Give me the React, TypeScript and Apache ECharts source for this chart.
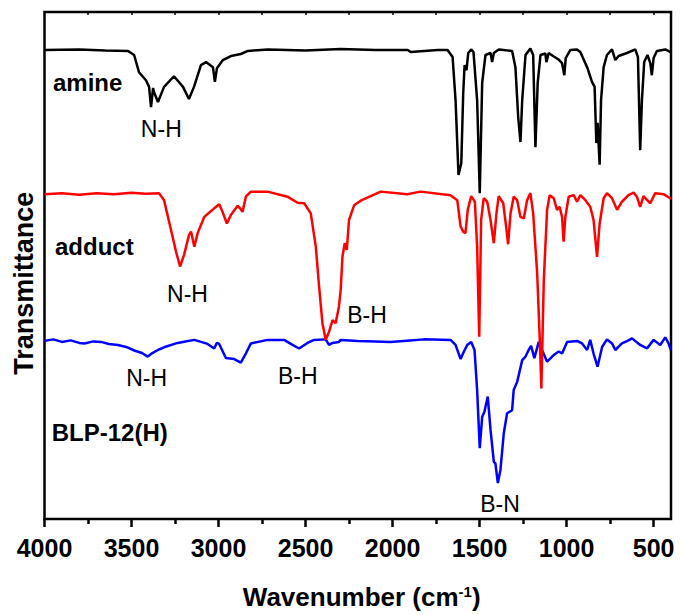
import React, { useEffect, useRef } from "react";
import * as echarts from "echarts";

// Wavenumber (cm-1), transmittance (a.u., offset spectra)
const AMINE: [number, number][] = [
  [4000, 92.5], [3800, 92.6], [3650, 92.4], [3520, 92.3], [3485, 91.5], [3457, 88.1], [3417, 86.5],
  [3399, 85.2], [3388, 81.2], [3376, 85.0], [3371, 84.2], [3348, 82.2], [3313, 85.2], [3256, 87.3],
  [3204, 85.2], [3170, 82.8], [3141, 85.2], [3101, 89.5], [3072, 90.1], [3032, 89.1], [3021, 86.2],
  [3009, 88.9], [2975, 90.5], [2929, 91.3], [2872, 91.7], [2831, 92.3], [2717, 92.6], [2500, 92.4],
  [2298, 92.7], [2100, 92.5], [1913, 92.5], [1896, 92.1], [1741, 92.5], [1684, 92.5], [1655, 91.1],
  [1638, 82.6], [1621, 67.8], [1605, 70.1], [1594, 84.0], [1586, 89.5], [1575, 88.5], [1565, 91.9],
  [1548, 92.6], [1535, 92.1], [1514, 82.6], [1499, 64.2], [1485, 86.0], [1466, 91.5], [1437, 91.9],
  [1428, 90.1], [1418, 91.9], [1390, 92.6], [1313, 92.3], [1294, 89.1], [1278, 79.2], [1265, 74.3],
  [1255, 82.6], [1236, 91.5], [1208, 92.8], [1192, 91.5], [1179, 73.3], [1166, 86.0], [1150, 91.5],
  [1122, 91.8], [1116, 90.1], [1103, 91.9], [1074, 91.2], [1045, 90.6], [1026, 89.9], [1013, 87.5],
  [1005, 90.9], [978, 92.5], [940, 92.6], [921, 92.1], [882, 89.1], [854, 86.2], [839, 85.2],
  [829, 74.1], [822, 78.1], [810, 69.8], [802, 82.6], [787, 89.1], [768, 91.5], [739, 92.6],
  [720, 90.5], [701, 91.3], [653, 91.9], [605, 92.6], [590, 91.1], [577, 72.7], [567, 82.6],
  [554, 90.1], [535, 91.5], [519, 89.9], [510, 87.5], [500, 90.9], [481, 92.3], [433, 92.6],
  [405, 92.1], [400, 92.0],
];

const ADDUCT: [number, number][] = [
  [4000, 64.0], [3900, 64.2], [3800, 63.9], [3700, 64.2], [3600, 64.0], [3500, 64.3], [3420, 64.1],
  [3342, 64.2], [3313, 62.8], [3273, 56.9], [3244, 52.6], [3221, 49.7], [3198, 52.0], [3170, 55.9],
  [3158, 56.6], [3139, 53.6], [3120, 56.3], [3082, 59.5], [3025, 61.2], [2996, 62.0], [2977, 60.5],
  [2952, 58.2], [2929, 59.9], [2890, 61.7], [2876, 61.2], [2862, 60.5], [2843, 63.5], [2814, 64.5],
  [2718, 64.5], [2604, 63.5], [2546, 62.3], [2508, 62.2], [2470, 60.2], [2441, 53.6], [2422, 45.7],
  [2403, 38.5], [2384, 35.2], [2365, 36.8], [2345, 39.1], [2327, 38.5], [2308, 41.8], [2298, 45.1],
  [2288, 51.6], [2275, 54.3], [2263, 53.0], [2250, 58.9], [2221, 61.8], [2183, 62.7], [2068, 64.5],
  [1915, 64.0], [1839, 64.5], [1667, 63.8], [1628, 62.8], [1609, 57.6], [1594, 56.6], [1581, 56.3],
  [1568, 60.9], [1548, 63.6], [1527, 62.5], [1514, 53.6], [1502, 35.8], [1491, 58.9], [1476, 63.2],
  [1456, 62.5], [1437, 58.9], [1418, 54.3], [1403, 60.2], [1390, 63.6], [1364, 62.2], [1345, 56.9],
  [1336, 54.1], [1322, 60.2], [1304, 63.5], [1284, 62.8], [1265, 59.5], [1246, 59.2], [1227, 62.8],
  [1208, 64.2], [1192, 60.2], [1169, 48.4], [1154, 35.2], [1145, 25.6], [1131, 47.0], [1112, 60.9],
  [1097, 63.8], [1074, 63.2], [1055, 60.9], [1040, 61.5], [1026, 59.5], [1017, 54.6], [1007, 59.5],
  [988, 63.5], [959, 63.8], [940, 62.5], [921, 63.8], [892, 62.8], [864, 61.5], [845, 58.9],
  [825, 51.6], [810, 58.2], [787, 63.2], [768, 64.2], [739, 63.2], [710, 60.9], [682, 62.5],
  [644, 63.8], [615, 64.3], [596, 63.5], [577, 61.5], [558, 63.6], [519, 62.2], [491, 64.2],
  [443, 64.0], [405, 63.2], [400, 63.1],
];

const BLP: [number, number][] = [
  [4000, 35.0], [3950, 35.3], [3900, 34.8], [3850, 35.1], [3800, 34.6], [3770, 34.5], [3720, 34.9],
  [3675, 34.8], [3630, 34.4], [3579, 34.2], [3530, 33.8], [3484, 33.1], [3440, 32.6], [3407, 31.9],
  [3380, 32.6], [3349, 33.2], [3300, 33.9], [3235, 34.6], [3190, 34.9], [3139, 35.2], [3063, 34.4],
  [3025, 33.5], [3010, 34.6], [2996, 34.4], [2958, 31.6], [2910, 31.4], [2872, 30.7], [2843, 32.5],
  [2814, 34.5], [2718, 35.2], [2623, 35.2], [2575, 34.2], [2537, 33.5], [2489, 34.6], [2451, 35.2],
  [2384, 35.3], [2365, 34.2], [2345, 34.6], [2308, 34.8], [2298, 35.2], [2200, 35.0], [2100, 34.9],
  [2011, 34.8], [1900, 35.1], [1820, 35.3], [1667, 35.2], [1638, 34.2], [1609, 31.4], [1590, 32.9],
  [1571, 34.2], [1548, 34.8], [1529, 33.2], [1514, 25.3], [1499, 13.8], [1485, 20.0], [1472, 21.0],
  [1453, 24.0], [1437, 17.4], [1418, 11.1], [1409, 10.8], [1395, 6.9], [1380, 9.5], [1361, 16.7],
  [1342, 20.7], [1313, 21.3], [1304, 25.3], [1284, 26.9], [1255, 31.2], [1236, 31.9], [1218, 33.2],
  [1204, 34.0], [1185, 31.6], [1160, 34.8], [1141, 33.2], [1112, 30.9], [1074, 32.2], [1045, 32.9],
  [1026, 32.5], [997, 34.8], [940, 35.0], [911, 34.5], [882, 33.2], [864, 35.2], [845, 32.5],
  [822, 29.9], [796, 33.8], [768, 35.3], [739, 34.5], [720, 33.2], [682, 34.5], [650, 35.0],
  [624, 35.5], [577, 34.2], [538, 33.5], [500, 35.2], [462, 34.2], [433, 35.7], [414, 34.5],
  [401, 33.2],
];

const MAJOR_TICKS = [4000, 3500, 3000, 2500, 2000, 1500, 1000, 500];
const MINOR_TICKS = [3750, 3250, 2750, 2250, 1750, 1250, 750];
const TOP_TICKS = [3750, 3500, 3250, 3000, 2750, 2500, 2250, 2000, 1750, 1500, 1250, 1000, 750, 500];

const FONT = 'Arial, "Liberation Sans", Helvetica, sans-serif';

export default function App() {
  const ref = useRef<HTMLDivElement>(null);
  useEffect(() => {
    if (!ref.current) return;
    const chart = echarts.init(ref.current, undefined, { renderer: "svg" });
    const baseX = {
      type: "value" as const,
      inverse: true,
      min: 400,
      max: 4000,
      splitLine: { show: false },
      axisLine: { show: false },
    };
    const label = (text: string, x: number, y: number, bold: boolean, size: number, align = "center") => ({
      type: "text",
      x,
      y,
      style: {
        text,
        fill: "#000",
        font: `${bold ? "bold " : ""}${size}px ${FONT}`,
        align,
        verticalAlign: "middle",
      },
    });
    chart.setOption({
      animation: false,
      grid: {
        left: 44.5,
        right: 9,
        top: 12,
        bottom: 96,
        show: true,
        borderColor: "#000",
        borderWidth: 2.5,
        backgroundColor: "transparent",
      },
      xAxis: [
        {
          ...baseX,
          position: "bottom",
          axisTick: { show: true, customValues: MAJOR_TICKS, length: 9, lineStyle: { color: "#000", width: 2.5 } },
          axisLabel: {
            show: true,
            customValues: MAJOR_TICKS,
            formatter: (v: number) => String(v),
            color: "#000",
            fontSize: 25,
            fontWeight: "bold",
            fontFamily: FONT,
            margin: 16,
          },
        },
        {
          ...baseX,
          position: "bottom",
          axisTick: { show: true, customValues: MINOR_TICKS, length: 5, lineStyle: { color: "#000", width: 2.5 } },
          axisLabel: { show: false },
        },
        {
          ...baseX,
          position: "top",
          axisTick: { show: true, inside: true, customValues: TOP_TICKS, length: 3, lineStyle: { color: "#000", width: 1.5 } },
          axisLabel: { show: false },
        },
      ],
      yAxis: {
        type: "value",
        min: -0.2,
        max: 100,
        axisLine: { show: false },
        axisTick: { show: false },
        axisLabel: { show: false },
        splitLine: { show: false },
      },
      series: [
        { name: "BLP-12(H)", type: "line", data: BLP, color: "#0000ff" },
        { name: "adduct", type: "line", data: ADDUCT, color: "#ff0000" },
        { name: "amine", type: "line", data: AMINE, color: "#000000" },
      ].map((s) => ({
        ...s,
        xAxisIndex: 0,
        yAxisIndex: 0,
        showSymbol: false,
        symbol: "none",
        lineStyle: { width: 2.5, color: s.color },
        itemStyle: { color: s.color },
      })),
      graphic: [
        label("amine", 53, 82.4, true, 24, "left"),
        label("N-H", 161.3, 129.3, false, 23),
        label("adduct", 55, 246.7, true, 24, "left"),
        label("N-H", 187.5, 293.7, false, 23),
        label("B-H", 367, 314.7, false, 23),
        label("N-H", 146.7, 378, false, 23),
        label("B-H", 297.8, 376, false, 23),
        label("BLP-12(H)", 51.7, 432.4, true, 24, "left"),
        label("B-N", 500, 503.7, false, 23),
        {
          type: "text",
          x: 361.7,
          y: 597,
          style: {
            text: "{a|Wavenumber (cm}{s|-1}{a|)}",
            align: "center",
            verticalAlign: "middle",
            rich: {
              a: { fontSize: 26, fontWeight: "bold", fontFamily: FONT, fill: "#000", color: "#000" },
              s: { fontSize: 15, fontWeight: "bold", fontFamily: FONT, fill: "#000", color: "#000", verticalAlign: "top" },
            },
          },
        },
        {
          type: "text",
          x: 24,
          y: 283.3,
          rotation: Math.PI / 2,
          style: {
            text: "Transmittance",
            fill: "#000",
            font: `bold 27px ${FONT}`,
            align: "center",
            verticalAlign: "middle",
          },
        },
      ],
    });
    return () => chart.dispose();
  }, []);
  return (
    <div
      ref={ref}
      style={{ position: "fixed", left: 0, top: 0, width: 680, height: 615, background: "#fff" }}
    />
  );
}
